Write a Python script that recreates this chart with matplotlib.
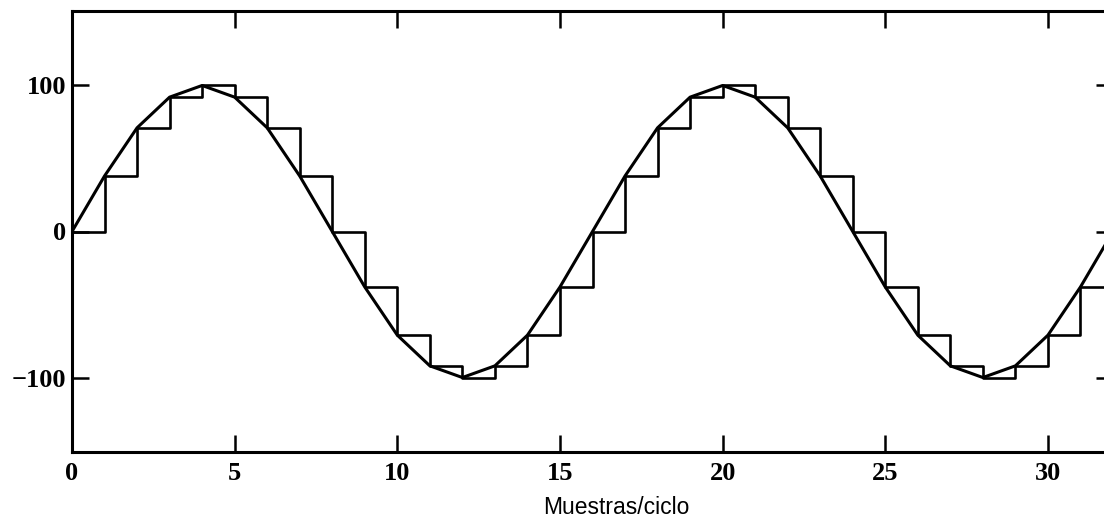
import matplotlib.pyplot as plt

# samples of a 16 samples/cycle sine, amplitude 100
n = list(range(33))
muestras = [0, 38, 71, 92, 100, 92, 71, 38, 0, -38, -71, -92, -100, -92, -71, -38,
            0, 38, 71, 92, 100, 92, 71, 38, 0, -38, -71, -92, -100, -92, -71, -38,
            0]

x_ticks = [0, 5, 10, 15, 20, 25, 30]
y_ticks = [-100, 0, 100]

fig = plt.figure(figsize=(11.04, 5.25), dpi=100)
# axes run a bit past the right edge of the figure
ax = fig.add_axes([72 / 1104, 73 / 525, 1041 / 1104, 441 / 525])

ax.step(n, muestras, where='post', color='black', linewidth=1.9)
ax.plot(n, muestras, color='black', linewidth=2.2)

ax.set_xlim(0, 32)
ax.set_ylim(-151, 151)
ax.set_xticks(x_ticks)
ax.set_yticks(y_ticks)
ax.set_yticklabels(['\u2212100', '0', '100'])
ax.tick_params(direction='in', length=12.5, width=1.8, top=True, right=True)
ax.tick_params(axis='x', pad=7)
ax.tick_params(axis='y', pad=4)
for lbl in ax.get_xticklabels() + ax.get_yticklabels():
    lbl.set_fontfamily('Liberation Serif')
    lbl.set_fontweight('bold')
    lbl.set_fontsize(19)
for s in ax.spines.values():
    s.set_linewidth(2.2)

ax.set_xlabel('Muestras/ciclo', family='Liberation Sans', fontsize=16.5,
              labelpad=8, x=0.523)

fig.savefig('out.png', dpi=100)
